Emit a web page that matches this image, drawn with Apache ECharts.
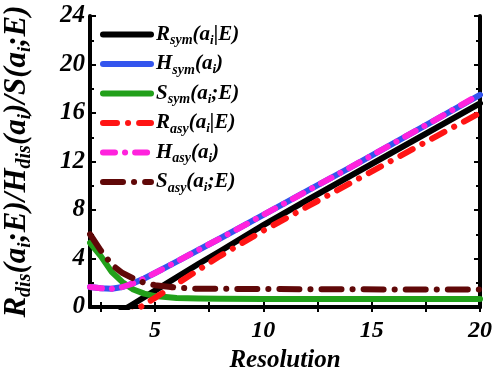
<!DOCTYPE html>
<html><head><meta charset="utf-8">
<script src="https://cdn.jsdelivr.net/npm/echarts@6/dist/echarts.min.js"></script>
<style>html,body{margin:0;padding:0;background:#fff}#c{width:498px;height:367px}</style>
</head><body><div id="c"></div>
<script>
const xs = [2,2.5,3,3.5,4,4.5,5,6,7,8,10,12,14,16,18,20];
const Rsym = [-2.0,-1.45,-0.85,-0.3,0.25,0.8,1.35,2.45,3.55,4.6,6.75,8.8,10.8,12.8,14.8,16.8];
const Hsym = [1.65,1.55,1.5,1.65,1.95,2.35,2.8,3.75,4.7,5.65,7.6,9.55,11.5,13.5,15.5,17.5];
const Ssym = [5.3,4.2,2.9,2.05,1.45,1.1,0.9,0.75,0.7,0.68,0.66,0.65,0.65,0.65,0.65,0.65];
const Rasy = [-2.7,-2.15,-1.6,-1.0,-0.4,0.2,0.75,1.9,3.05,4.2,6.3,8.25,10.2,12.15,14.1,16.0];
const Hasy = [1.65,1.55,1.5,1.65,1.95,2.35,2.8,3.75,4.7,5.65,7.6,9.55,11.5,13.5,15.5,17.55];
const Sasy = [6.0,4.65,3.5,2.8,2.35,2.0,1.8,1.6,1.5,1.5,1.48,1.47,1.46,1.45,1.45,1.45];
const xTickLabels = [5,10,15,20];
const xTicks = [2.5,5,7.5,10,12.5,15,17.5,20];
const names = ['Rsym','Hsym','Ssym','Rasy','Hasy','Sasy'];
const legendRich = {
  Rsym:'{b|R}{s|sym}{b|(a}{t|i}{b||E)}',
  Hsym:'{b|H}{s|sym}{b|(a}{t|i}{b|)}',
  Ssym:'{b|S}{s|sym}{b|(a}{t|i}{b|;E)}',
  Rasy:'{b|R}{s|asy}{b|(a}{t|i}{b||E)}',
  Hasy:'{b|H}{s|asy}{b|(a}{t|i}{b|)}',
  Sasy:'{b|S}{s|asy}{b|(a}{t|i}{b|;E)}'
};
const FF = '"Liberation Serif", "DejaVu Serif", serif';
const font = {fontFamily:FF, fontWeight:'bold', fontStyle:'italic', color:'#000'};
function pts(v){ return xs.map((x,i)=>[x,v[i]]); }
const chart = echarts.init(document.getElementById('c'));
function ser(name, data, color, dash){
  return {name, type:'line', data:pts(data), symbol:'none', showSymbol:false, clip:true, smooth:false,
    lineStyle:{color, width:6, type:dash||'solid', cap:'round', join:'round'}, itemStyle:{color}};
}
chart.setOption({
  animation:false,
  grid:{left:90,right:18,top:16,bottom:60, outerBoundsMode:'none', containLabel:false},
  legend:{
    orient:'vertical', left:100, top:24, padding:0, itemWidth:48, itemHeight:12, itemGap:6,
    data:names, itemStyle:{opacity:0}, lineStyle:{width:6, cap:'round'},
    formatter:n=>legendRich[n],
    textStyle:{...font, fontSize:21,
      rich:{
        b:{...font, fontSize:21},
        s:{...font, fontSize:14, padding:[12,0,0,0]},
        t:{...font, fontSize:13, padding:[12,0,0,0]}
      }}
  },
  xAxis:[{
    type:'value', min:2, max:20, position:'bottom',
    name:'Resolution', nameLocation:'middle', nameGap:27,
    nameTextStyle:{...font, fontSize:25},
    axisLine:{lineStyle:{color:'#000', width:4}},
    axisTick:{inside:true, length:5, customValues:xTicks, lineStyle:{width:2,color:'#000'}},
    axisLabel:{...font, fontSize:24, margin:12, customValues:xTickLabels},
    splitLine:{show:false}
  },{
    type:'value', min:2, max:20, position:'top',
    axisLine:{lineStyle:{color:'#000', width:4}},
    axisTick:{inside:true, length:5, customValues:xTicks, lineStyle:{width:2,color:'#000'}},
    axisLabel:{show:false}, splitLine:{show:false}
  }],
  yAxis:[{
    type:'value', min:0, max:24, interval:4, position:'left',
    name:'{b|R}{s|dis}{b|(a}{t|i}{b|;E)/H}{s|dis}{b|(a}{t|i}{b|)/S(a}{t|i}{b|;E)}',
    nameLocation:'middle', nameGap:55, nameRotate:90,
    nameTextStyle:{...font, fontSize:31,
      rich:{
        b:{...font, fontSize:31},
        s:{...font, fontSize:20, padding:[16,0,0,0]},
        t:{...font, fontSize:19, padding:[16,0,0,0]}
      }},
    axisLine:{lineStyle:{color:'#000', width:4}},
    axisTick:{inside:true, length:6, lineStyle:{width:2,color:'#000'}},
    minorTick:{show:true, splitNumber:2, length:4, lineStyle:{width:2,color:'#000'}},
    axisLabel:{...font, fontSize:25, margin:5},
    splitLine:{show:false}
  },{
    type:'value', min:0, max:24, interval:4, position:'right',
    axisLine:{lineStyle:{color:'#000', width:4}},
    axisTick:{inside:true, length:6, lineStyle:{width:2,color:'#000'}},
    minorTick:{show:true, splitNumber:2, length:4, lineStyle:{width:2,color:'#000'}},
    axisLabel:{show:false}, splitLine:{show:false}
  }],
  series:[
    ser('Rsym', Rsym, '#000000'),
    ser('Hsym', Hsym, '#3355ee'),
    ser('Ssym', Ssym, '#22a01a'),
    ser('Rasy', Rasy, '#ff1414', [14,11,0.1,11]),
    ser('Hasy', Hasy, '#ff22dd', [12,10,0.1,10]),
    ser('Sasy', Sasy, '#600808', [20,11,0.1,11])
  ]
});
</script></body></html>
